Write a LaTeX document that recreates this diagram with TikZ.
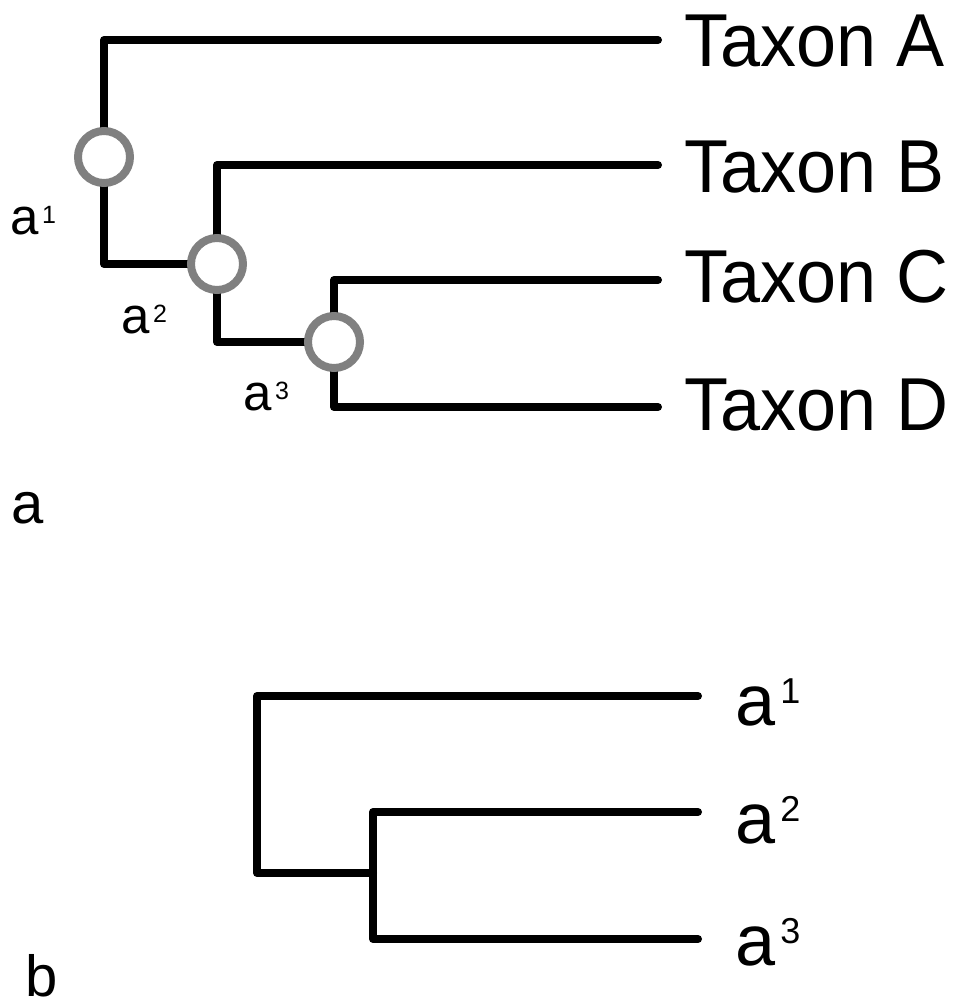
\documentclass[tikz,border=0pt]{standalone}
\usepackage{fontspec}
\setmainfont{Liberation Sans}
\newfontfamily\taxfont[FakeStretch=0.96]{Liberation Sans}
\definecolor{ringgray}{RGB}{128,128,128}
\newcommand\supA[1]{\kern3.5pt\raisebox{11pt}{\fontsize{25}{25}\selectfont #1}}
\newcommand\supB[1]{\kern5pt\raisebox{22pt}{\fontsize{36}{36}\selectfont #1}}
\begin{document}
\begin{tikzpicture}[x=1pt,y=-1pt,
  branch/.style={line width=8pt, line cap=round, line join=round},
  ring/.style={circle, draw=ringgray, fill=white, line width=8pt, minimum size=52pt, inner sep=0pt},
  taxon/.style={anchor=base west, inner sep=0pt, font=\taxfont\fontsize{75}{75}\selectfont},
  labA/.style={anchor=base west, inner sep=0pt, font=\fontsize{51}{51}\selectfont},
  labB/.style={anchor=base west, inner sep=0pt, font=\fontsize{72}{72}\selectfont},
  panel/.style={anchor=base west, inner sep=0pt, font=\fontsize{58}{58}\selectfont}]
\useasboundingbox (0,0) rectangle (956,1006);
% ---- panel a ----
\coordinate (Aend) at (658,40);
\coordinate (Bend) at (658,165);
\coordinate (Cend) at (658,280);
\coordinate (Dend) at (658,407);
\coordinate (r1t) at (104,40);
\coordinate (r1b) at (104,264);
\coordinate (r2t) at (217,165);
\coordinate (r2b) at (217,342);
\coordinate (r3t) at (334,280);
\coordinate (r3b) at (334,407);
\coordinate (n1) at (104,157);
\coordinate (n2) at (217,264);
\coordinate (n3) at (334,342);
\draw[branch] (Aend) -- (r1t) -- (r1b) -- (n2);
\draw[branch] (Bend) -- (r2t) -- (r2b) -- (n3);
\draw[branch] (Cend) -- (r3t) -- (r3b) -- (Dend);
\node[ring] (c1) at (n1) {};
\node[ring] (c2) at (n2) {};
\node[ring] (c3) at (n3) {};
\node[taxon] (tA) at (684,67) {Taxon A};
\node[taxon] (tB) at (684,192) {Taxon B};
\node[taxon] (tC) at (684,302) {Taxon C};
\node[taxon] (tD) at (684,430) {Taxon D};
\node[labA] (l1) at (10,234) {a\supA{1}};
\node[labA] (l2) at (121,333) {a\supA{2}};
\node[labA] (l3) at (243,410) {a\supA{3}};
\node[panel] (pa) at (11,523) {a};
% ---- panel b ----
\coordinate (b1end) at (698,696);
\coordinate (b2end) at (698,812);
\coordinate (b3end) at (698,939);
\coordinate (s1t) at (257,696);
\coordinate (s1b) at (257,873);
\coordinate (s2t) at (373,812);
\coordinate (s2m) at (373,873);
\coordinate (s2b) at (373,939);
\draw[branch] (b1end) -- (s1t) -- (s1b) -- (s2m);
\draw[branch] (b2end) -- (s2t) -- (s2b) -- (b3end);
\node[labB] (m1) at (735,725) {a\supB{1}};
\node[labB] (m2) at (735,843) {a\supB{2}};
\node[labB] (m3) at (735,965) {a\supB{3}};
\node[panel] (pb) at (25,996) {b};
\end{tikzpicture}
\end{document}
